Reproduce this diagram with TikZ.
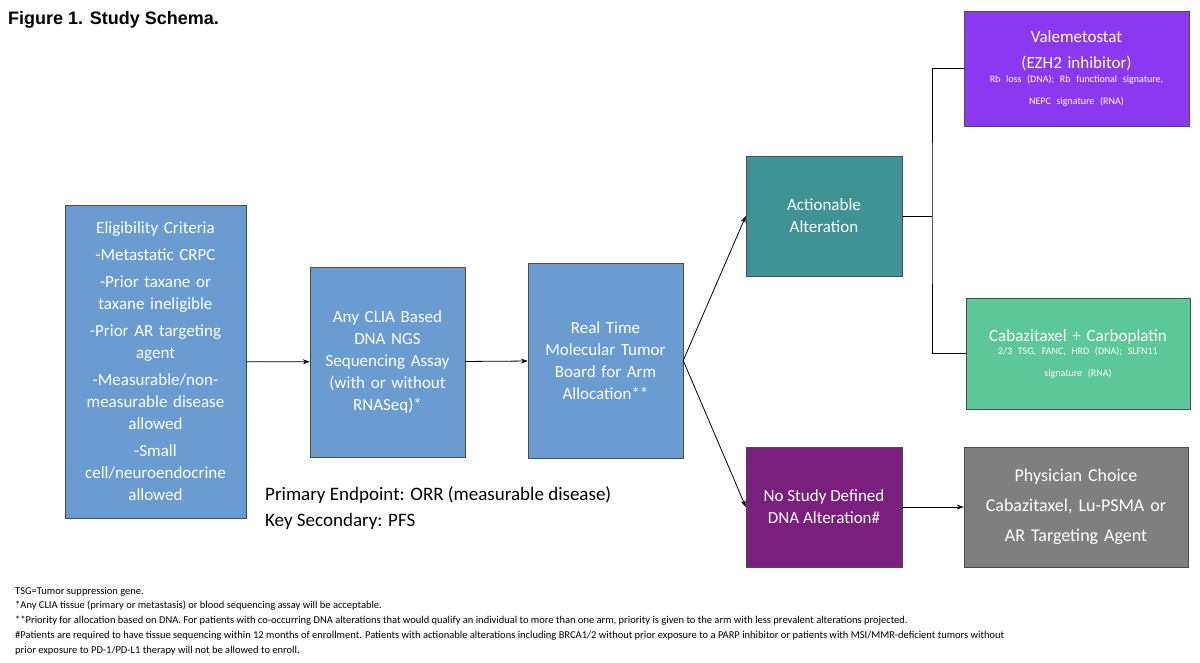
\documentclass[tikz,border=0pt]{standalone}
\usepackage{fontspec}
\setmainfont{Carlito}
\newfontfamily\titlefont{Liberation Sans}
\usetikzlibrary{positioning,arrows.meta}

\definecolor{boxblue}{HTML}{6A9BD1}
\definecolor{boxteal}{HTML}{3F9394}
\definecolor{boxplum}{HTML}{7A1F7E}
\definecolor{boxviolet}{HTML}{8B39F0}
\definecolor{boxgreen}{HTML}{5CC89A}
\definecolor{boxgray}{HTML}{7F7F7F}

\begin{document}
\begin{tikzpicture}[x=1pt,y=-1pt]
\tikzstyle{stepbox} = [draw=black!70, thin, rectangle, text=white,
    align=center, inner sep=2pt, font=\fontsize{17}{22}\selectfont]
\tikzstyle{arm} = [-{Stealth[length=7pt,width=5pt]}, thick]
\tikzstyle{note} = [anchor=west, inner sep=0pt, font=\fontsize{10.5}{12}\selectfont]

\useasboundingbox (0,0) rectangle (1200,663);
\node[anchor=west, inner sep=0pt, font=\titlefont\bfseries\fontsize{18}{20}\selectfont] (title) at (8,20) {Figure 1. Study Schema.};

% main line
\node[stepbox, fill=boxblue, minimum width=181pt, minimum height=313pt, text width=170pt] (elig) at (155.5,361.5)
  {Eligibility Criteria\\[5pt]-Metastatic CRPC\\[5pt]-Prior taxane or\\taxane ineligible\\[5pt]-Prior AR targeting\\agent\\[5pt]-Measurable/non-\\measurable disease\\allowed\\[5pt]-Small\\cell/neuroendocrine\\allowed};
\node[stepbox, fill=boxblue, minimum width=155pt, minimum height=190pt, text width=145pt] (assay) at (387.5,362)
  {Any CLIA Based\\DNA NGS\\Sequencing Assay\\(with or without\\RNASeq)*};
\node[stepbox, fill=boxblue, minimum width=155pt, minimum height=195pt, text width=148pt] (board) at (605.5,360.5)
  {Real Time\\Molecular Tumor\\Board for Arm\\Allocation**};

% arms
\node[stepbox, fill=boxteal, minimum width=156pt, minimum height=120pt] (action) at (824,216)
  {Actionable\\Alteration};
\node[stepbox, fill=boxplum, minimum width=156pt, minimum height=120pt] (nostudy) at (824,507)
  {No Study Defined\\DNA Alteration\#};
\node[stepbox, fill=boxviolet, minimum width=225pt, minimum height=115pt, text width=215pt] (vale) at (1076.5,68.5)
  {Valemetostat\\[4pt](EZH2 inhibitor)\\[2pt]{\fontsize{10}{12}\selectfont Rb loss (DNA); Rb functional signature,\\NEPC signature (RNA)}};
\node[stepbox, fill=boxgreen, minimum width=224pt, minimum height=111pt, text width=215pt] (cabo) at (1078,353.5)
  {Cabazitaxel + Carboplatin\\{\fontsize{10}{13}\selectfont 2/3 TSG, FANC, HRD (DNA); SLFN11\\signature (RNA)}};
\node[stepbox, fill=boxgray, minimum width=224pt, minimum height=120pt, text width=215pt, font=\fontsize{18}{30}\selectfont] (choice) at (1076,507)
  {Physician Choice\\Cabazitaxel, Lu-PSMA or\\AR Targeting Agent};

\node[anchor=north west, inner sep=0pt, align=left, font=\fontsize{19}{26}\selectfont] (endpoint) at (265,486)
  {Primary Endpoint: ORR (measurable disease)\\Key Secondary: PFS};

% connectors
\draw[arm] (elig) -- (assay);
\draw[arm] (assay) -- (board);
\draw[arm] (board.east) -- (action.west);
\draw[arm] (board.east) -- (nostudy.west);
\draw[arm] (nostudy) -- (choice);
\coordinate (split) at (932,216);
\draw[thick] (action) -- (split);
\draw[thick] (vale.west) -| (split) |- (cabo.west);

% footnotes
\node[note] (n1) at (15,592) {TSG=Tumor suppression gene.};
\node[note] (n2) at (15,606) {*Any CLIA tissue (primary or metastasis) or blood sequencing assay will be acceptable.};
\node[note] (n3) at (15,621) {**Priority for allocation based on DNA. For patients with co-occurring DNA alterations that would qualify an individual to more than one arm, priority is given to the arm with less prevalent alterations projected.};
\node[note] (n4) at (15,636) {\#Patients are required to have tissue sequencing within 12 months of enrollment. Patients with actionable alterations including BRCA1/2 without prior exposure to a PARP inhibitor or patients with MSI/MMR-deficient tumors without};
\node[note] (n5) at (15,651) {prior exposure to PD-1/PD-L1 therapy will not be allowed to enroll.};
\end{tikzpicture}
\end{document}
